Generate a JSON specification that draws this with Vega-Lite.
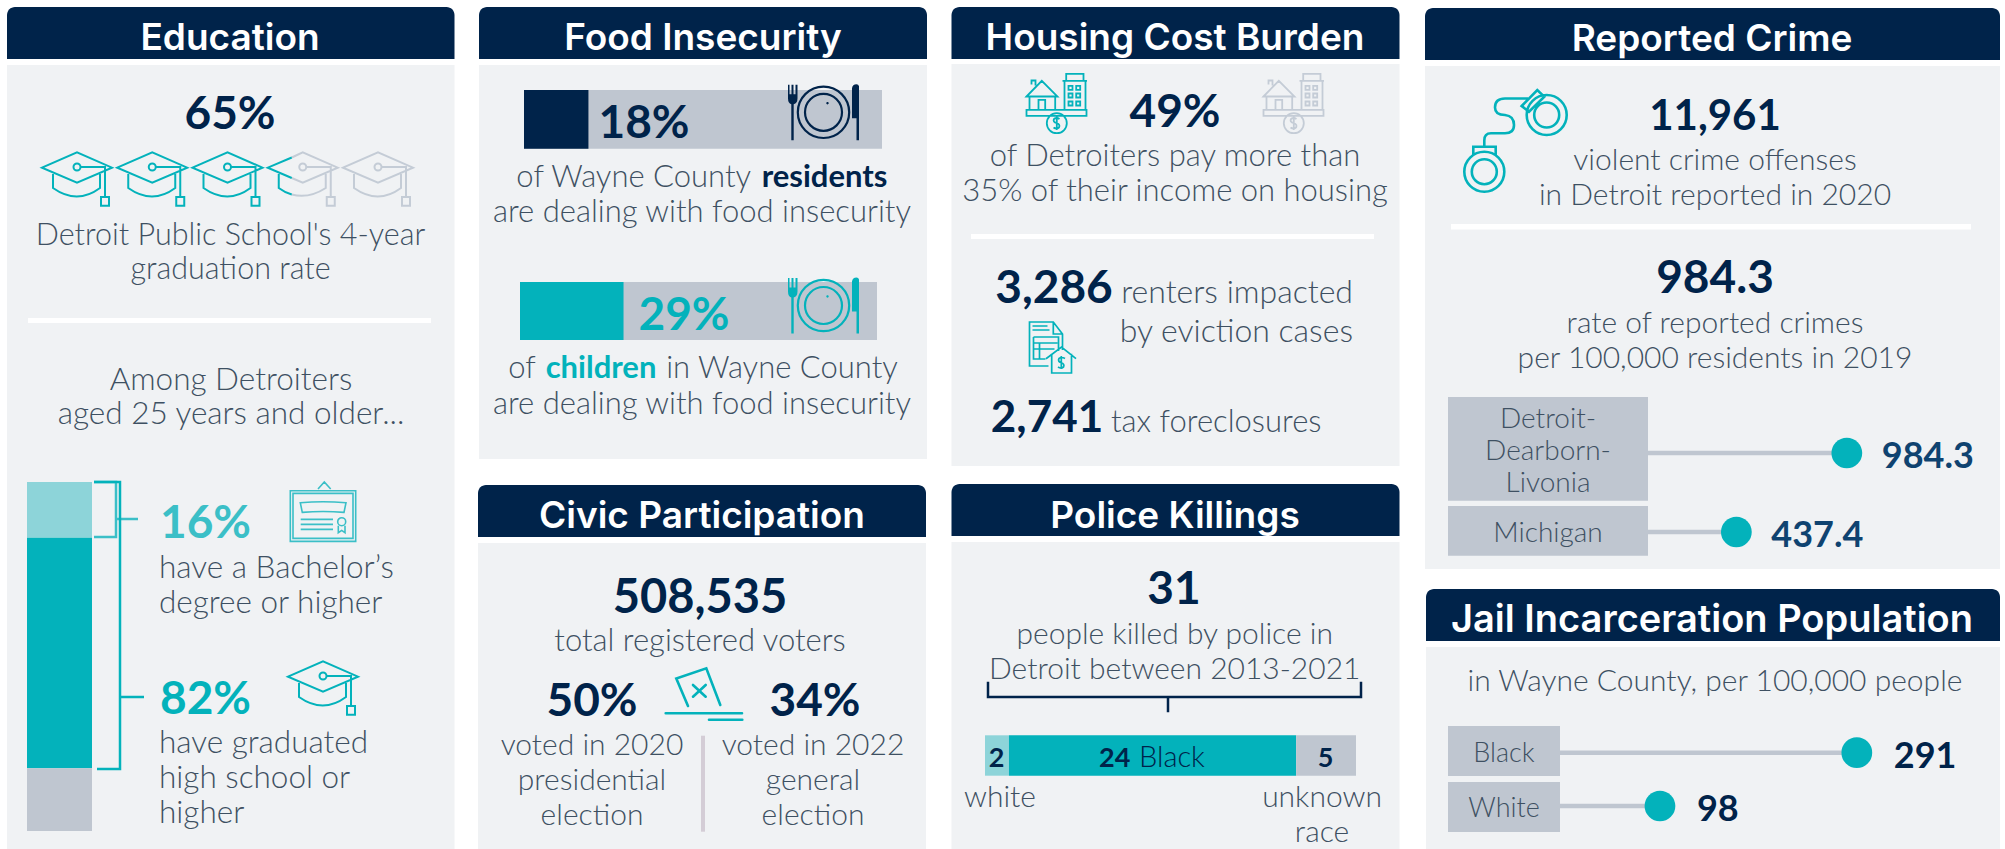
{"$schema":"https://vega.github.io/schema/vega-lite/v6.json","width":2005,"height":849,"autosize":{"type":"fit","contains":"padding"},"padding":0,"background":"#ffffff",
"config":{"font":"Lato","view":{"stroke":null},"axis":{"disable":true},"legend":{"disable":true},"text":{"baseline":"alphabetic","fontWeight":300}},
"datasets":{
"panels":[{"panel":"Education"},{"panel":"Food Insecurity"},{"panel":"Civic Participation"},{"panel":"Housing Cost Burden"},{"panel":"Police Killings"},{"panel":"Reported Crime"},{"panel":"Jail Incarceration Population"}],
"education":[{"group":"Bachelor's degree or higher","share":16,"rank":1},{"group":"High school, no Bachelor's","share":66,"rank":2},{"group":"Less than high school","share":18,"rank":3}],
"food":[{"group":"residents","share":18,"base":0,"total":100},{"group":"children","share":29,"base":0,"total":100}],
"police":[{"race":"white","count":2,"rank":1},{"race":"Black","count":24,"rank":2},{"race":"unknown race","count":5,"rank":3}],
"crime":[{"place":"Detroit-Dearborn-Livonia","rate":984.3,"base":0},{"place":"Michigan","rate":437.4,"base":0}],
"jail":[{"race":"Black","rate":291,"base":0},{"race":"White","rate":98,"base":0}],
"caps":[{"cap":1,"state":"full"},{"cap":2,"state":"full"},{"cap":3,"state":"full"},{"cap":4,"state":"partial"},{"cap":5,"state":"empty"}],
"icons":[{"icon":"one"}],
"labels":[
{"id":"e1","label":"65%"},{"id":"e2","label":"Detroit Public School's 4-year\ngraduation rate"},{"id":"e3","label":"Among Detroiters\naged 25 years and older..."},{"id":"e4","label":"16%"},{"id":"e5","label":"have a Bachelor’s\ndegree or higher"},{"id":"e6","label":"82%"},{"id":"e7","label":"have graduated\nhigh school or\nhigher"},
{"id":"f1","label":"18%"},{"id":"f2","label":"of Wayne County"},{"id":"f3","label":"residents"},{"id":"f4","label":"are dealing with food insecurity"},{"id":"f5","label":"29%"},{"id":"f6","label":"of"},{"id":"f7","label":"children"},{"id":"f8","label":"in Wayne County"},{"id":"f9","label":"are dealing with food insecurity"},
{"id":"c1","label":"508,535"},{"id":"c2","label":"total registered voters"},{"id":"c3","label":"50%"},{"id":"c4","label":"34%"},{"id":"c5","label":"voted in 2020\npresidential\nelection"},{"id":"c6","label":"voted in 2022\ngeneral\nelection"},
{"id":"h1","label":"49%"},{"id":"h2","label":"of Detroiters pay more than\n35% of their income on housing"},{"id":"h3","label":"3,286"},{"id":"h4","label":"renters impacted\nby eviction cases"},{"id":"h5","label":"2,741"},{"id":"h6","label":"tax foreclosures"},
{"id":"p1","label":"31"},{"id":"p2","label":"people killed by police in\nDetroit between 2013-2021"},{"id":"p3","label":"2"},{"id":"p4","label":"24"},{"id":"p5","label":"Black"},{"id":"p6","label":"5"},{"id":"p7","label":"white"},{"id":"p8","label":"unknown\nrace"},
{"id":"r1","label":"11,961"},{"id":"r2","label":"violent crime offenses\nin Detroit reported in 2020"},{"id":"r3","label":"984.3"},{"id":"r4","label":"rate of reported crimes\nper 100,000 residents in 2019"},{"id":"r5","label":"Detroit-\nDearborn-\nLivonia"},{"id":"r6","label":"Michigan"},
{"id":"j1","label":"in Wayne County, per 100,000 people"},{"id":"j2","label":"Black"},{"id":"j3","label":"White"}
]},
"resolve":{"scale":{"x":"independent","y":"independent","color":"independent"}},
"layer":[
{"data":{"name":"panels"},"layer":[
{"transform":[{"filter":"datum.panel=='Education'"}],"layer":[
{"mark":{"type":"rect","color":"#f0f2f4"},"encoding":{"x":{"datum":7,"scale":{"domain":[0,2005],"range":[0,2005],"nice":false,"zero":false}},"x2":{"datum":454.5},"y":{"datum":65,"scale":{"domain":[0,849],"range":[0,849],"nice":false,"zero":false}},"y2":{"datum":849}}},
{"mark":{"type":"rect","color":"#00234a","cornerRadiusTopLeft":8,"cornerRadiusTopRight":8},"encoding":{"x":{"datum":7},"x2":{"datum":454.5},"y":{"datum":7},"y2":{"datum":59}}},
{"mark":{"type":"text","font":"Inter","fontWeight":600,"fontSize":37,"color":"#ffffff"},"encoding":{"text":{"field":"panel"},"x":{"datum":230},"y":{"datum":50}}}]},
{"transform":[{"filter":"datum.panel=='Food Insecurity'"}],"layer":[
{"mark":{"type":"rect","color":"#f0f2f4"},"encoding":{"x":{"datum":479},"x2":{"datum":927},"y":{"datum":65},"y2":{"datum":459}}},
{"mark":{"type":"rect","color":"#00234a","cornerRadiusTopLeft":8,"cornerRadiusTopRight":8},"encoding":{"x":{"datum":479},"x2":{"datum":927},"y":{"datum":7},"y2":{"datum":59}}},
{"mark":{"type":"text","font":"Inter","fontWeight":600,"fontSize":37,"color":"#ffffff"},"encoding":{"text":{"field":"panel"},"x":{"datum":703},"y":{"datum":50}}}]},
{"transform":[{"filter":"datum.panel=='Civic Participation'"}],"layer":[
{"mark":{"type":"rect","color":"#f0f2f4"},"encoding":{"x":{"datum":478},"x2":{"datum":926},"y":{"datum":543},"y2":{"datum":849}}},
{"mark":{"type":"rect","color":"#00234a","cornerRadiusTopLeft":8,"cornerRadiusTopRight":8},"encoding":{"x":{"datum":478},"x2":{"datum":926},"y":{"datum":485},"y2":{"datum":537}}},
{"mark":{"type":"text","font":"Inter","fontWeight":600,"fontSize":37,"color":"#ffffff"},"encoding":{"text":{"field":"panel"},"x":{"datum":702},"y":{"datum":528}}}]},
{"transform":[{"filter":"datum.panel=='Housing Cost Burden'"}],"layer":[
{"mark":{"type":"rect","color":"#f0f2f4"},"encoding":{"x":{"datum":951.5},"x2":{"datum":1399.5},"y":{"datum":64},"y2":{"datum":466}}},
{"mark":{"type":"rect","color":"#00234a","cornerRadiusTopLeft":8,"cornerRadiusTopRight":8},"encoding":{"x":{"datum":951.5},"x2":{"datum":1399.5},"y":{"datum":7},"y2":{"datum":59}}},
{"mark":{"type":"text","font":"Inter","fontWeight":600,"fontSize":37,"color":"#ffffff"},"encoding":{"text":{"field":"panel"},"x":{"datum":1175},"y":{"datum":50}}}]},
{"transform":[{"filter":"datum.panel=='Police Killings'"}],"layer":[
{"mark":{"type":"rect","color":"#f0f2f4"},"encoding":{"x":{"datum":951.5},"x2":{"datum":1399.5},"y":{"datum":542},"y2":{"datum":849}}},
{"mark":{"type":"rect","color":"#00234a","cornerRadiusTopLeft":8,"cornerRadiusTopRight":8},"encoding":{"x":{"datum":951.5},"x2":{"datum":1399.5},"y":{"datum":484},"y2":{"datum":536}}},
{"mark":{"type":"text","font":"Inter","fontWeight":600,"fontSize":37,"color":"#ffffff"},"encoding":{"text":{"field":"panel"},"x":{"datum":1175},"y":{"datum":528}}}]},
{"transform":[{"filter":"datum.panel=='Reported Crime'"}],"layer":[
{"mark":{"type":"rect","color":"#f0f2f4"},"encoding":{"x":{"datum":1425},"x2":{"datum":2000},"y":{"datum":66},"y2":{"datum":569}}},
{"mark":{"type":"rect","color":"#00234a","cornerRadiusTopLeft":8,"cornerRadiusTopRight":8},"encoding":{"x":{"datum":1425},"x2":{"datum":2000},"y":{"datum":8},"y2":{"datum":60}}},
{"mark":{"type":"text","font":"Inter","fontWeight":600,"fontSize":37,"color":"#ffffff"},"encoding":{"text":{"field":"panel"},"x":{"datum":1712},"y":{"datum":51}}}]},
{"transform":[{"filter":"datum.panel=='Jail Incarceration Population'"}],"layer":[
{"mark":{"type":"rect","color":"#f0f2f4"},"encoding":{"x":{"datum":1426},"x2":{"datum":2000},"y":{"datum":647},"y2":{"datum":849}}},
{"mark":{"type":"rect","color":"#00234a","cornerRadiusTopLeft":8,"cornerRadiusTopRight":8},"encoding":{"x":{"datum":1426},"x2":{"datum":2000},"y":{"datum":589},"y2":{"datum":641}}},
{"mark":{"type":"text","font":"Inter","fontWeight":600,"fontSize":38,"color":"#ffffff"},"encoding":{"text":{"field":"panel"},"x":{"datum":1712},"y":{"datum":632}}}]}
]},
{"data":{"name":"education"},"transform":[{"stack":"share","as":["from","to"],"groupby":[],"sort":[{"field":"rank","order":"ascending"}]}],"mark":{"type":"rect"},"encoding":{"y":{"field":"from","type":"quantitative","scale":{"domain":[0,100],"range":[482,831]}},"y2":{"field":"to"},"x":{"datum":27,"scale":{"domain":[0,2005],"range":[0,2005]}},"x2":{"datum":92},"color":{"field":"group","type":"nominal","scale":{"domain":["Bachelor's degree or higher","High school, no Bachelor's","Less than high school"],"range":["#8dd4d9","#03b2bb","#bfc6d0"]}}}},
{"data":{"name":"food"},"transform":[{"filter":"datum.group=='residents'"}],"layer":[
{"mark":{"type":"rect","color":"#bfc6d0"},"encoding":{"x":{"field":"base","type":"quantitative","scale":{"domain":[0,100],"range":[524,882],"nice":false}},"x2":{"field":"total"},"y":{"datum":90,"scale":{"domain":[0,849],"range":[0,849],"nice":false}},"y2":{"datum":148.7}}},
{"mark":{"type":"rect","color":"#00234a"},"encoding":{"x":{"field":"base","type":"quantitative"},"x2":{"field":"share"},"y":{"datum":90},"y2":{"datum":148.7}}}]},
{"data":{"name":"food"},"transform":[{"filter":"datum.group=='children'"}],"layer":[
{"mark":{"type":"rect","color":"#bfc6d0"},"encoding":{"x":{"field":"base","type":"quantitative","scale":{"domain":[0,100],"range":[520,877],"nice":false}},"x2":{"field":"total"},"y":{"datum":282,"scale":{"domain":[0,849],"range":[0,849],"nice":false}},"y2":{"datum":340}}},
{"mark":{"type":"rect","color":"#03b2bb"},"encoding":{"x":{"field":"base","type":"quantitative"},"x2":{"field":"share"},"y":{"datum":282},"y2":{"datum":340}}}]},
{"data":{"name":"police"},"transform":[{"stack":"count","as":["from","to"],"groupby":[],"sort":[{"field":"rank","order":"ascending"}]}],"mark":{"type":"rect"},"encoding":{"x":{"field":"from","type":"quantitative","scale":{"domain":[0,31],"range":[985,1356]}},"x2":{"field":"to"},"y":{"datum":735.3,"scale":{"domain":[0,849],"range":[0,849]}},"y2":{"datum":775.7},"color":{"field":"race","type":"nominal","scale":{"domain":["white","Black","unknown race"],"range":["#8dd4d9","#03b2bb","#bfc6d0"]}}}},
{"data":{"name":"crime"},"layer":[
{"mark":{"type":"rule","color":"#bfc6d0","strokeWidth":4.5},"encoding":{"y":{"field":"place","type":"nominal","scale":{"type":"point","domain":["Detroit-Dearborn-Livonia","Michigan"],"range":[453,532],"padding":0}},"x":{"field":"base","type":"quantitative","scale":{"domain":[0,1000],"range":[1648,1850],"nice":false}},"x2":{"field":"rate"}}},
{"mark":{"type":"circle","color":"#03b2bb","opacity":1,"size":945},"encoding":{"y":{"field":"place","type":"nominal"},"x":{"field":"rate","type":"quantitative"}}},
{"mark":{"type":"text","align":"left","dx":35,"dy":15,"font":"Lato","fontWeight":700,"fontSize":36,"color":"#0f4370"},"encoding":{"y":{"field":"place","type":"nominal"},"x":{"field":"rate","type":"quantitative"},"text":{"field":"rate","type":"quantitative","format":".1f"}}}]},
{"data":{"name":"jail"},"layer":[
{"mark":{"type":"rule","color":"#bfc6d0","strokeWidth":4.5},"encoding":{"y":{"field":"race","type":"nominal","scale":{"type":"point","domain":["Black","White"],"range":[752.7,806],"padding":0}},"x":{"field":"base","type":"quantitative","scale":{"domain":[0,300],"range":[1560,1866],"nice":false}},"x2":{"field":"rate"}}},
{"mark":{"type":"circle","color":"#03b2bb","opacity":1,"size":945},"encoding":{"y":{"field":"race","type":"nominal"},"x":{"field":"rate","type":"quantitative"}}},
{"mark":{"type":"text","align":"left","dx":37,"dy":15,"font":"Lato","fontWeight":700,"fontSize":36,"color":"#00234a"},"encoding":{"y":{"field":"race","type":"nominal"},"x":{"field":"rate","type":"quantitative"},"text":{"field":"rate","type":"quantitative"}}}]},
{"data":{"name":"caps"},"layer":[
{"transform":[{"filter":"datum.state=='empty'"}],"mark":{"type":"point","shape":"M-35 -11.3L0 -26.7L35 -11.3L0 3.7Z M-3.5 -12a3.5 3.5 0 1 0 7 0a3.5 3.5 0 1 0 -7 0M3.5 -12H28V18 M24 18H32V26.7H24Z M-24 -5V9Q0 26 23 9V-5","size":4,"filled":false,"opacity":1,"stroke":"#c4ccd6","strokeWidth":2},"encoding":{"x":{"field":"cap","type":"quantitative","scale":{"domain":[1,5],"range":[77,378],"nice":false,"zero":false}},"y":{"datum":179,"scale":{"domain":[0,849],"range":[0,849],"nice":false}}}},
{"transform":[{"filter":"datum.state=='partial'"}],"mark":{"type":"point","shape":"M-11 -21.5L0 -26.7L35 -11.3L0 3.7L-11 -1 M-3.5 -12a3.5 3.5 0 1 0 7 0a3.5 3.5 0 1 0 -7 0M3.5 -12H28V18 M24 18H32V26.7H24Z M-11 15.5Q6 20 23 9V-5","size":4,"filled":false,"opacity":1,"stroke":"#c4ccd6","strokeWidth":2},"encoding":{"x":{"field":"cap","type":"quantitative"},"y":{"datum":179}}},
{"transform":[{"filter":"datum.state=='partial'"}],"mark":{"type":"point","shape":"M-11 -21.5L-35 -11.3L-11 -1 M-24 -5V9Q-18 13.5 -11 15.5","size":4,"filled":false,"opacity":1,"stroke":"#03b2bb","strokeWidth":2},"encoding":{"x":{"field":"cap","type":"quantitative"},"y":{"datum":179}}},
{"transform":[{"filter":"datum.state=='full'"}],"mark":{"type":"point","shape":"M-35 -11.3L0 -26.7L35 -11.3L0 3.7Z M-3.5 -12a3.5 3.5 0 1 0 7 0a3.5 3.5 0 1 0 -7 0M3.5 -12H28V18 M24 18H32V26.7H24Z M-24 -5V9Q0 26 23 9V-5","size":4,"filled":false,"opacity":1,"stroke":"#03b2bb","strokeWidth":2},"encoding":{"x":{"field":"cap","type":"quantitative"},"y":{"datum":179}}}
]},
{"data":{"name":"icons"},"layer":[
{"mark":{"type":"rect","color":"#ffffff"},"encoding":{"x":{"datum":28,"scale":{"domain":[0,2005],"range":[0,2005],"nice":false,"zero":false}},"x2":{"datum":431},"y":{"datum":318,"scale":{"domain":[0,849],"range":[0,849],"nice":false,"zero":false}},"y2":{"datum":323}}},
{"mark":{"type":"rect","color":"#ffffff"},"encoding":{"x":{"datum":971},"x2":{"datum":1374},"y":{"datum":234},"y2":{"datum":239}}},
{"mark":{"type":"rect","color":"#ffffff"},"encoding":{"x":{"datum":1451},"x2":{"datum":1971},"y":{"datum":224},"y2":{"datum":229.5}}},
{"mark":{"type":"rect","color":"#d4cdd6"},"encoding":{"x":{"datum":701},"x2":{"datum":705},"y":{"datum":735.7},"y2":{"datum":831.7}}},
{"mark":{"type":"rect","color":"#bfc6d0"},"encoding":{"x":{"datum":1448},"x2":{"datum":1648},"y":{"datum":397},"y2":{"datum":500.7}}},
{"mark":{"type":"rect","color":"#bfc6d0"},"encoding":{"x":{"datum":1448},"x2":{"datum":1648},"y":{"datum":506},"y2":{"datum":555.7}}},
{"mark":{"type":"rect","color":"#bfc6d0"},"encoding":{"x":{"datum":1448},"x2":{"datum":1560},"y":{"datum":726},"y2":{"datum":776}}},
{"mark":{"type":"rect","color":"#bfc6d0"},"encoding":{"x":{"datum":1448},"x2":{"datum":1560},"y":{"datum":782},"y2":{"datum":832}}},
{"mark":{"type":"point","shape":"M-22 -28H0V27H-22M0 9H22","size":4,"filled":false,"opacity":1,"stroke":"#3bbfc7","strokeWidth":2.5},"encoding":{"x":{"datum":116},"y":{"datum":510}}},
{"mark":{"type":"point","shape":"M-26 -143H0V144H-23M0 72H24","size":4,"filled":false,"opacity":1,"stroke":"#03b2bb","strokeWidth":2.5},"encoding":{"x":{"datum":120},"y":{"datum":625}}},
{"mark":{"type":"point","shape":"M-32.7 -21H32.7V29.7H-32.7ZM-30 -18.3H30V26.7H-30ZM-5 -22.7L1.3 -29.7L7.7 -22.7M-22.7 -9Q0 -11 23 -9L21 .7Q0 -1 -20.7 .7ZM-22.3 7.7H10M-22.3 12.7H10M-22.3 17.7H10M14.7 10a4 4 0 1 0 8 0a4 4 0 1 0 -8 0M15.3 14V21L18.7 18.7L22 21V14","size":4,"filled":false,"opacity":1,"stroke":"#3bbfc7","strokeWidth":1.6},"encoding":{"x":{"datum":323},"y":{"datum":511.7}}},
{"mark":{"type":"point","shape":"M-35 -11.3L0 -26.7L35 -11.3L0 3.7Z M-3.5 -12a3.5 3.5 0 1 0 7 0a3.5 3.5 0 1 0 -7 0M3.5 -12H28V18 M24 18H32V26.7H24Z M-24 -5V9Q0 26 23 9V-5","size":4,"filled":false,"opacity":1,"stroke":"#03b2bb","strokeWidth":2},"encoding":{"x":{"datum":323},"y":{"datum":688}}},
{"mark":{"type":"point","shape":"M-25.7 0a25.7 25.7 0 1 0 51.4 0a25.7 25.7 0 1 0 -51.4 0M-18.5 0a18.5 18.5 0 1 0 37 0a18.5 18.5 0 1 0 -37 0","size":4,"filled":false,"opacity":1,"stroke":"#00234a","strokeWidth":2.2},"encoding":{"x":{"datum":823.5},"y":{"datum":112.3}}},
{"mark":{"type":"point","shape":"M-35.5 -27.5H-34V-18H-32V-27.5H-30V-18H-28V-27.5H-26V-14Q-26 -9 -29.8 -8V28H-32.2V-8Q-35.5 -9 -35.5 -14ZM33 -28Q35 -28 35.5 -26V28H33V6H28.5V-24Q29 -28 33 -28ZM2.8 -9a1.2 1.2 0 1 0 2.4 0a1.2 1.2 0 1 0 -2.4 0","size":4,"filled":true,"opacity":1,"fill":"#00234a","strokeWidth":0},"encoding":{"x":{"datum":823.5},"y":{"datum":112.3}}},
{"mark":{"type":"point","shape":"M-25.7 0a25.7 25.7 0 1 0 51.4 0a25.7 25.7 0 1 0 -51.4 0M-18.5 0a18.5 18.5 0 1 0 37 0a18.5 18.5 0 1 0 -37 0","size":4,"filled":false,"opacity":1,"stroke":"#03b2bb","strokeWidth":2.2},"encoding":{"x":{"datum":823.5},"y":{"datum":305.5}}},
{"mark":{"type":"point","shape":"M-35.5 -27.5H-34V-18H-32V-27.5H-30V-18H-28V-27.5H-26V-14Q-26 -9 -29.8 -8V28H-32.2V-8Q-35.5 -9 -35.5 -14ZM33 -28Q35 -28 35.5 -26V28H33V6H28.5V-24Q29 -28 33 -28ZM2.8 -9a1.2 1.2 0 1 0 2.4 0a1.2 1.2 0 1 0 -2.4 0","size":4,"filled":true,"opacity":1,"fill":"#03b2bb","strokeWidth":0},"encoding":{"x":{"datum":823.5},"y":{"datum":305.5}}},
{"mark":{"type":"point","shape":"M-16 11.5L-27.7 -16L2.3 -26.2L16.3 10.5M-11 -9.5L1.7 2.2M1.7 -9.5L-11 2.2M-38.3 18.8H38M5 25.2H38.3","size":4,"filled":false,"opacity":1,"stroke":"#03b2bb","strokeWidth":2.6,"strokeCap":"round"},"encoding":{"x":{"datum":704},"y":{"datum":694.5}}},
{"mark":{"type":"point","shape":"M-30 6.3H30V12.3H-30ZM-30 -7L-14.7 -22.7L1 -7ZM-27 -7V6.3M-1.3 -7V6.3M-18 6.3V-3.7H-11.3V6.3M-25 -19V-23H-21V-18M8 6.3V-22.7M29 6.3V-22.7M6 -22.7H30.5M9.7 -22.7V-29.7H27V-22.7M12 -17.7H16V-13.7H12ZM19.7 -17.7H23.7V-13.7H19.7ZM12 -10H16V-6H12ZM19.7 -10H23.7V-6H19.7ZM12 -2H16V2H12ZM19.7 -2H23.7V2H19.7ZM-9.7 19.7a10 10 0 1 0 20 0a10 10 0 1 0 -20 0M3 15.5Q0 13.5 -2.5 15.5Q-4 18.5 .3 19.7Q4 21 2.5 24Q0 26 -3 24M.3 13V26.5","size":4,"filled":false,"opacity":1,"stroke":"#03b2bb","strokeWidth":1.8},"encoding":{"x":{"datum":1056.5},"y":{"datum":103.5}}},
{"mark":{"type":"point","shape":"M-30 6.3H30V12.3H-30ZM-30 -7L-14.7 -22.7L1 -7ZM-27 -7V6.3M-1.3 -7V6.3M-18 6.3V-3.7H-11.3V6.3M-25 -19V-23H-21V-18M8 6.3V-22.7M29 6.3V-22.7M6 -22.7H30.5M9.7 -22.7V-29.7H27V-22.7M12 -17.7H16V-13.7H12ZM19.7 -17.7H23.7V-13.7H19.7ZM12 -10H16V-6H12ZM19.7 -10H23.7V-6H19.7ZM12 -2H16V2H12ZM19.7 -2H23.7V2H19.7ZM-9.7 19.7a10 10 0 1 0 20 0a10 10 0 1 0 -20 0M3 15.5Q0 13.5 -2.5 15.5Q-4 18.5 .3 19.7Q4 21 2.5 24Q0 26 -3 24M.3 13V26.5","size":4,"filled":false,"opacity":1,"stroke":"#c4ccd6","strokeWidth":1.8},"encoding":{"x":{"datum":1293.5},"y":{"datum":103.5}}},
{"mark":{"type":"point","shape":"M-4 19H-23V-25H.8L10 -13V3M.8 -25V-13H10M-20 -21H-5M-20 -17H-3M-19 -10H6V4M-19 -10V12H-7M-19 -4H5M-19 2H2M-13 -4V12M-6.5 11.7L9 0L23.5 11.7M-.8 6.7V26H19V6.7M12.5 11.5Q9 9.5 6.5 11.5Q5 14.5 8.5 15.5Q12.5 17 11 20Q8.5 22 5.5 20M8.8 9V22","size":4,"filled":false,"opacity":1,"stroke":"#03b2bb","strokeWidth":1.7},"encoding":{"x":{"datum":1052.5},"y":{"datum":347}}},
{"mark":{"type":"point","shape":"M10.7 -25.5a20 20 0 1 0 40 0a20 20 0 1 0 -40 0M18.2 -25.5a12.5 12.5 0 1 0 25 0a12.5 12.5 0 1 0 -25 0M-51.7 31.2a20 20 0 1 0 40 0a20 20 0 1 0 -40 0M-44.2 31.2a12.5 12.5 0 1 0 25 0a12.5 12.5 0 1 0 -25 0M5.7 -34.5L21.3 -50.5L28.3 -43.8L13 -28.8ZM-42.7 14.5V6.2H-20.3V14.5M-31.7 6.2V0Q-31.7 -7.2 -25 -7.2H-11Q-2 -7.2 -2 -15.5Q-2 -24.5 -11 -25.5Q-21 -25.5 -21 -33Q-21 -42 -11 -42H12","size":4,"filled":false,"opacity":1,"stroke":"#03b2bb","strokeWidth":2.6},"encoding":{"x":{"datum":1516},"y":{"datum":140.5}}},
{"mark":{"type":"point","shape":"M-186.5 -15.3V0H186.5V-15.3M-6.5 0V15.3","size":4,"filled":false,"opacity":1,"stroke":"#00234a","strokeWidth":2.5},"encoding":{"x":{"datum":1174.5},"y":{"datum":697}}}
]},
{"data":{"name":"labels"},"layer":[
{"transform":[{"filter":"datum.id=='e1'"}],"mark":{"type":"text","fontWeight":700,"fontSize":46,"color":"#00234a"},"encoding":{"text":{"field":"label"},"x":{"datum":230,"scale":{"domain":[0,2005],"range":[0,2005],"nice":false,"zero":false}},"y":{"datum":128.7,"scale":{"domain":[0,849],"range":[0,849],"nice":false,"zero":false}}}},
{"transform":[{"filter":"datum.id=='e2'"}],"mark":{"type":"text","fontSize":30.5,"color":"#3e5062","lineBreak":"\n","lineHeight":34},"encoding":{"text":{"field":"label"},"x":{"datum":230.5},"y":{"datum":245}}},
{"transform":[{"filter":"datum.id=='e3'"}],"mark":{"type":"text","fontSize":31.5,"color":"#3e5062","lineBreak":"\n","lineHeight":34},"encoding":{"text":{"field":"label"},"x":{"datum":231},"y":{"datum":390}}},
{"transform":[{"filter":"datum.id=='e4'"}],"mark":{"type":"text","align":"left","fontWeight":700,"fontSize":46,"color":"#3bbfc7"},"encoding":{"text":{"field":"label"},"x":{"datum":160},"y":{"datum":538}}},
{"transform":[{"filter":"datum.id=='e5'"}],"mark":{"type":"text","align":"left","fontSize":31.5,"color":"#3e5062","lineBreak":"\n","lineHeight":35},"encoding":{"text":{"field":"label"},"x":{"datum":159},"y":{"datum":577.7}}},
{"transform":[{"filter":"datum.id=='e6'"}],"mark":{"type":"text","align":"left","fontWeight":700,"fontSize":46,"color":"#03b2bb"},"encoding":{"text":{"field":"label"},"x":{"datum":160},"y":{"datum":714}}},
{"transform":[{"filter":"datum.id=='e7'"}],"mark":{"type":"text","align":"left","fontSize":31.5,"color":"#3e5062","lineBreak":"\n","lineHeight":35},"encoding":{"text":{"field":"label"},"x":{"datum":159},"y":{"datum":753}}},
{"transform":[{"filter":"datum.id=='f1'"}],"mark":{"type":"text","fontWeight":700,"fontSize":46,"color":"#00234a"},"encoding":{"text":{"field":"label"},"x":{"datum":644},"y":{"datum":138.3}}},
{"transform":[{"filter":"datum.id=='f2'"}],"mark":{"type":"text","fontSize":31,"color":"#3e5062"},"encoding":{"text":{"field":"label"},"x":{"datum":633.7},"y":{"datum":186.7}}},
{"transform":[{"filter":"datum.id=='f3'"}],"mark":{"type":"text","fontWeight":700,"fontSize":31,"color":"#00234a"},"encoding":{"text":{"field":"label"},"x":{"datum":824.5},"y":{"datum":186.7}}},
{"transform":[{"filter":"datum.id=='f4'"}],"mark":{"type":"text","fontSize":31,"color":"#3e5062"},"encoding":{"text":{"field":"label"},"x":{"datum":702},"y":{"datum":222.3}}},
{"transform":[{"filter":"datum.id=='f5'"}],"mark":{"type":"text","fontWeight":700,"fontSize":46,"color":"#03b2bb"},"encoding":{"text":{"field":"label"},"x":{"datum":684},"y":{"datum":330}}},
{"transform":[{"filter":"datum.id=='f6'"}],"mark":{"type":"text","fontSize":31,"color":"#3e5062"},"encoding":{"text":{"field":"label"},"x":{"datum":522},"y":{"datum":378}}},
{"transform":[{"filter":"datum.id=='f7'"}],"mark":{"type":"text","fontWeight":700,"fontSize":31,"color":"#03b2bb"},"encoding":{"text":{"field":"label"},"x":{"datum":601},"y":{"datum":378}}},
{"transform":[{"filter":"datum.id=='f8'"}],"mark":{"type":"text","fontSize":31,"color":"#3e5062"},"encoding":{"text":{"field":"label"},"x":{"datum":782},"y":{"datum":378}}},
{"transform":[{"filter":"datum.id=='f9'"}],"mark":{"type":"text","fontSize":31,"color":"#3e5062"},"encoding":{"text":{"field":"label"},"x":{"datum":702},"y":{"datum":414}}},
{"transform":[{"filter":"datum.id=='c1'"}],"mark":{"type":"text","fontWeight":700,"fontSize":47,"color":"#00234a"},"encoding":{"text":{"field":"label"},"x":{"datum":700},"y":{"datum":612.7}}},
{"transform":[{"filter":"datum.id=='c2'"}],"mark":{"type":"text","fontSize":31,"color":"#3e5062"},"encoding":{"text":{"field":"label"},"x":{"datum":700},"y":{"datum":650.7}}},
{"transform":[{"filter":"datum.id=='c3'"}],"mark":{"type":"text","fontWeight":700,"fontSize":46,"color":"#00234a"},"encoding":{"text":{"field":"label"},"x":{"datum":592},"y":{"datum":716}}},
{"transform":[{"filter":"datum.id=='c4'"}],"mark":{"type":"text","fontWeight":700,"fontSize":46,"color":"#00234a"},"encoding":{"text":{"field":"label"},"x":{"datum":815},"y":{"datum":716}}},
{"transform":[{"filter":"datum.id=='c5'"}],"mark":{"type":"text","fontSize":30,"color":"#3e5062","lineBreak":"\n","lineHeight":35},"encoding":{"text":{"field":"label"},"x":{"datum":592},"y":{"datum":755}}},
{"transform":[{"filter":"datum.id=='c6'"}],"mark":{"type":"text","fontSize":30,"color":"#3e5062","lineBreak":"\n","lineHeight":35},"encoding":{"text":{"field":"label"},"x":{"datum":813},"y":{"datum":755}}},
{"transform":[{"filter":"datum.id=='h1'"}],"mark":{"type":"text","fontWeight":700,"fontSize":46,"color":"#00234a"},"encoding":{"text":{"field":"label"},"x":{"datum":1175},"y":{"datum":126.7}}},
{"transform":[{"filter":"datum.id=='h2'"}],"mark":{"type":"text","fontSize":31,"color":"#3e5062","lineBreak":"\n","lineHeight":35},"encoding":{"text":{"field":"label"},"x":{"datum":1175},"y":{"datum":165.7}}},
{"transform":[{"filter":"datum.id=='h3'"}],"mark":{"type":"text","fontWeight":700,"fontSize":46,"color":"#00234a"},"encoding":{"text":{"field":"label"},"x":{"datum":1054},"y":{"datum":303.3}}},
{"transform":[{"filter":"datum.id=='h4'"}],"mark":{"type":"text","align":"right","fontSize":32,"color":"#3e5062","lineBreak":"\n","lineHeight":39},"encoding":{"text":{"field":"label"},"x":{"datum":1353},"y":{"datum":303.3}}},
{"transform":[{"filter":"datum.id=='h5'"}],"mark":{"type":"text","fontWeight":700,"fontSize":44,"color":"#00234a"},"encoding":{"text":{"field":"label"},"x":{"datum":1047},"y":{"datum":431.7}}},
{"transform":[{"filter":"datum.id=='h6'"}],"mark":{"type":"text","align":"left","fontSize":31,"color":"#3e5062"},"encoding":{"text":{"field":"label"},"x":{"datum":1111},"y":{"datum":431.7}}},
{"transform":[{"filter":"datum.id=='p1'"}],"mark":{"type":"text","fontWeight":700,"fontSize":46,"color":"#00234a"},"encoding":{"text":{"field":"label"},"x":{"datum":1174},"y":{"datum":604.3}}},
{"transform":[{"filter":"datum.id=='p2'"}],"mark":{"type":"text","fontSize":30,"color":"#3e5062","lineBreak":"\n","lineHeight":35},"encoding":{"text":{"field":"label"},"x":{"datum":1174.7},"y":{"datum":644}}},
{"transform":[{"filter":"datum.id=='p3'"}],"mark":{"type":"text","fontWeight":700,"fontSize":27,"color":"#00234a"},"encoding":{"text":{"field":"label"},"x":{"datum":996.7},"y":{"datum":766.7}}},
{"transform":[{"filter":"datum.id=='p4'"}],"mark":{"type":"text","align":"left","fontWeight":700,"fontSize":27,"color":"#00234a"},"encoding":{"text":{"field":"label"},"x":{"datum":1099},"y":{"datum":766.7}}},
{"transform":[{"filter":"datum.id=='p5'"}],"mark":{"type":"text","align":"left","fontSize":29,"color":"#00234a"},"encoding":{"text":{"field":"label"},"x":{"datum":1139},"y":{"datum":766.7}}},
{"transform":[{"filter":"datum.id=='p6'"}],"mark":{"type":"text","fontWeight":700,"fontSize":27,"color":"#00234a"},"encoding":{"text":{"field":"label"},"x":{"datum":1325.7},"y":{"datum":766.7}}},
{"transform":[{"filter":"datum.id=='p7'"}],"mark":{"type":"text","fontSize":30,"color":"#3e5062"},"encoding":{"text":{"field":"label"},"x":{"datum":1000},"y":{"datum":807.3}}},
{"transform":[{"filter":"datum.id=='p8'"}],"mark":{"type":"text","fontSize":30,"color":"#3e5062","lineBreak":"\n","lineHeight":34.5},"encoding":{"text":{"field":"label"},"x":{"datum":1322},"y":{"datum":807.3}}},
{"transform":[{"filter":"datum.id=='r1'"}],"mark":{"type":"text","fontWeight":700,"fontSize":42,"color":"#00234a"},"encoding":{"text":{"field":"label"},"x":{"datum":1715},"y":{"datum":129.6}}},
{"transform":[{"filter":"datum.id=='r2'"}],"mark":{"type":"text","fontSize":30,"color":"#3e5062","lineBreak":"\n","lineHeight":35},"encoding":{"text":{"field":"label"},"x":{"datum":1715},"y":{"datum":169.6}}},
{"transform":[{"filter":"datum.id=='r3'"}],"mark":{"type":"text","fontWeight":700,"fontSize":46,"color":"#00234a"},"encoding":{"text":{"field":"label"},"x":{"datum":1715},"y":{"datum":292.6}}},
{"transform":[{"filter":"datum.id=='r4'"}],"mark":{"type":"text","fontSize":30,"color":"#3e5062","lineBreak":"\n","lineHeight":35},"encoding":{"text":{"field":"label"},"x":{"datum":1715},"y":{"datum":332.6}}},
{"transform":[{"filter":"datum.id=='r5'"}],"mark":{"type":"text","fontSize":28,"color":"#3e5062","lineBreak":"\n","lineHeight":32},"encoding":{"text":{"field":"label"},"x":{"datum":1548},"y":{"datum":428}}},
{"transform":[{"filter":"datum.id=='r6'"}],"mark":{"type":"text","fontSize":28,"color":"#3e5062"},"encoding":{"text":{"field":"label"},"x":{"datum":1548},"y":{"datum":541.7}}},
{"transform":[{"filter":"datum.id=='j1'"}],"mark":{"type":"text","fontSize":30,"color":"#3e5062"},"encoding":{"text":{"field":"label"},"x":{"datum":1715},"y":{"datum":690.7}}},
{"transform":[{"filter":"datum.id=='j2'"}],"mark":{"type":"text","fontSize":27,"color":"#3e5062"},"encoding":{"text":{"field":"label"},"x":{"datum":1504},"y":{"datum":761.7}}},
{"transform":[{"filter":"datum.id=='j3'"}],"mark":{"type":"text","fontSize":27,"color":"#3e5062"},"encoding":{"text":{"field":"label"},"x":{"datum":1504},"y":{"datum":817}}}
]}
]}
